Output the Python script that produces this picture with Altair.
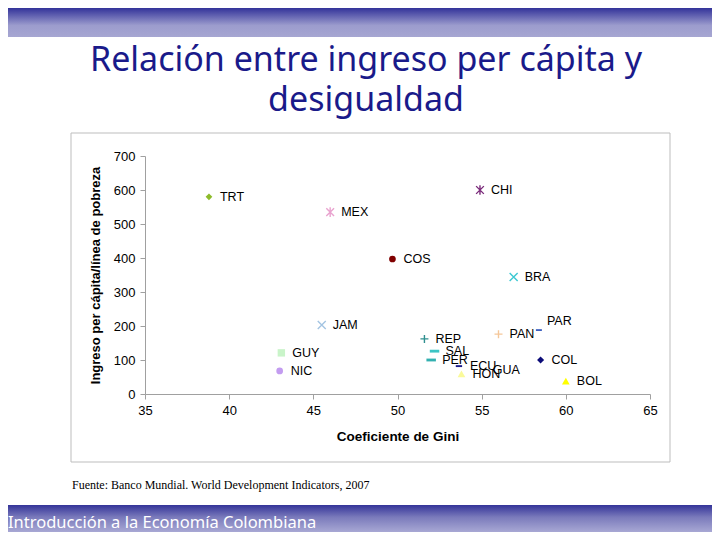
import altair as alt
import pandas as pd

# ---------------- data ----------------
countries = ["TRT", "MEX", "CHI", "COS", "BRA", "JAM", "GUY", "NIC", "REP",
             "SAL", "PER", "ECU", "HON", "GUA", "PAN", "PAR", "COL", "BOL"]
gini = [38.8, 46.0, 54.9, 49.7, 56.9, 45.5, 43.1, 43.0, 51.6,
        52.2, 52.0, 53.65, 53.8, 55.0, 56.0, 58.4, 58.5, 60.0]
ingreso = [580, 535, 600, 397, 344, 203, 121, 68, 162,
           126, 100, 82, 59, 71, 176, 188, 100, 38]

x_ticks = [35, 40, 45, 50, 55, 60, 65]
y_ticks = [0, 100, 200, 300, 400, 500, 600, 700]

title_lines = ["Relación entre ingreso per cápita y", "desigualdad"]
x_title = "Coeficiente de Gini"
y_title = "Ingreso per cápita/línea de pobreza"
source_text = "Fuente: Banco Mundial. World Development Indicators, 2007"
footer_text = "Introducción a la Economía Colombiana"

# ---------------- marker styles ----------------
P_X = "M-1,-1L1,1M-1,1L1,-1"
P_STAR = "M-1,-1L1,1M-1,1L1,-1M0,-1.25L0,1.25"
P_PLUS = "M-1,0L1,0M0,-1L0,1"
P_DASH = "M-1,-0.3L1,-0.3L1,0.3L-1,0.3Z"

# country: (shape, colour, size, filled)
marker_style = {
    "TRT": ("diamond", "#8dbb2a", 45, True),
    "MEX": (P_STAR, "#e9a3cf", 60, False),
    "CHI": (P_STAR, "#7a2a7a", 60, False),
    "COS": ("circle", "#800000", 45, True),
    "BRA": (P_X, "#3cc8d2", 64, False),
    "JAM": (P_X, "#a3c4e2", 64, False),
    "GUY": ("square", "#c9f4c9", 55, True),
    "NIC": ("circle", "#c39cf0", 45, True),
    "REP": (P_PLUS, "#2f8f8f", 64, False),
    "SAL": (P_DASH, "#3cc4c4", 90, True),
    "PER": (P_DASH, "#33b0b0", 90, True),
    "ECU": (P_DASH, "#1a1a8c", 40, True),
    "HON": ("triangle-up", "#fafa9a", 60, True),
    "GUA": ("circle", "#ffffff", 20, True),
    "PAN": (P_PLUS, "#f5c79a", 64, False),
    "PAR": (P_DASH, "#3b5fc0", 36, True),
    "COL": ("diamond", "#0c0c78", 50, True),
    "BOL": ("triangle-up", "#ffff00", 60, True),
}

df = pd.DataFrame({"pais": countries, "gini": gini, "ingreso": ingreso})
df["shape"] = [marker_style[c][0] for c in countries]
df["color"] = [marker_style[c][1] for c in countries]
df["size"] = [marker_style[c][2] for c in countries]
df["filled"] = [marker_style[c][3] for c in countries]

# ---------------- layout ----------------
W, H = 505, 238                     # plot area
PAD_L, PAD_T = 137, 148
TOTAL_W, TOTAL_H = 704, 524
PAD_R, PAD_B = TOTAL_W - W - PAD_L, TOTAL_H - H - PAD_T

FONT = "Liberation Sans"
SLIDE_FONT = "Noto Sans"

xs = alt.Scale(domain=[35, 65], nice=False, zero=False)
ys = alt.Scale(domain=[0, 700], nice=False, zero=False)

x_enc = alt.X("gini:Q", scale=xs, axis=alt.Axis(
    values=x_ticks, title=x_title, grid=False, labelFlush=False,
    domainColor="#a0a0a0", tickColor="#a0a0a0", tickSize=5,
    labelFont=FONT, labelFontSize=13, labelColor="#000000", labelPadding=5,
    titleFont=FONT, titleFontSize=13.5, titleFontWeight="bold",
    titleColor="#000000", titlePadding=12, zindex=1))
y_enc = alt.Y("ingreso:Q", scale=ys, axis=alt.Axis(
    values=y_ticks, title=y_title, grid=False, labelFlush=False,
    domainColor="#a0a0a0", tickColor="#a0a0a0", tickSize=5,
    labelFont=FONT, labelFontSize=13, labelColor="#000000", labelPadding=5,
    titleFont=FONT, titleFontSize=13, titleFontWeight="bold",
    titleColor="#000000", titlePadding=11, zindex=1))

base = alt.Chart(df)

one = alt.Data(values=[{"k": 0}])

def grad(stops):
    return alt.Gradient(gradient="linear", x1=0, x2=0, y1=0, y2=1,
                        stops=[alt.GradientStop(color=c, offset=o) for o, c in stops])

top_band = alt.Chart(one).mark_rect(
    color=grad([(0, "#33339a"), (0.6, "#9c9ccd"), (1, "#a6a6d2")])
).encode(x=alt.value(-PAD_L), x2=alt.value(W + PAD_R),
         y=alt.value(-PAD_T), y2=alt.value(-PAD_T + 29))

bottom_band = alt.Chart(one).mark_rect(
    color=grad([(0, "#343499"), (0.45, "#7a7abb"), (1, "#a8a8d4")])
).encode(x=alt.value(-PAD_L), x2=alt.value(W + PAD_R),
         y=alt.value(H + PAD_B - 27), y2=alt.value(H + PAD_B))

footer = alt.Chart(one).mark_text(
    text=footer_text, font=SLIDE_FONT, fontSize=16.5, color="#ffffff",
    align="left", baseline="alphabetic"
).encode(x=alt.value(-PAD_L + 0), y=alt.value(H + PAD_B - 4))

title = alt.Chart(one).mark_text(
    text=title_lines, font=SLIDE_FONT, fontSize=34, color="#1a1a8a",
    align="center", baseline="alphabetic", lineHeight=40
).encode(x=alt.value(221), y=alt.value(-85))

frame = alt.Chart(one).mark_rect(
    filled=False, stroke="#bdbdbd", strokeWidth=1
).encode(x=alt.value(-74), x2=alt.value(525), y=alt.value(-23), y2=alt.value(306))

source = alt.Chart(one).mark_text(
    text=source_text, font="Liberation Serif", fontSize=12, color="#000000",
    align="left", baseline="alphabetic"
).encode(x=alt.value(-73), y=alt.value(333))

filled_pts = base.transform_filter("datum.filled").mark_point(
    filled=True, opacity=1, strokeWidth=0
).encode(x=x_enc, y=y_enc,
         shape=alt.Shape("shape:N", scale=None),
         color=alt.Color("color:N", scale=None),
         size=alt.Size("size:Q", scale=None))

stroked_pts = base.transform_filter("!datum.filled").mark_point(
    filled=False, opacity=1, strokeWidth=1.4
).encode(x=x_enc, y=y_enc,
         shape=alt.Shape("shape:N", scale=None),
         color=alt.Color("color:N", scale=None),
         size=alt.Size("size:Q", scale=None))

labels = base.transform_filter("datum.pais != 'PAR'").mark_text(
    align="left", baseline="middle", dx=11, font=FONT, fontSize=12.5, color="#000000"
).encode(x=x_enc, y=y_enc, text="pais:N")

labels_par = base.transform_filter("datum.pais == 'PAR'").mark_text(
    align="left", baseline="middle", dx=8, dy=-9, font=FONT, fontSize=12.5, color="#000000"
).encode(x=x_enc, y=y_enc, text="pais:N")

chart = alt.layer(
    top_band, bottom_band, footer, title, frame, source,
    filled_pts, stroked_pts, labels, labels_par
).properties(
    width=W, height=H,
    autosize=alt.AutoSizeParams(type="none"),
    padding={"left": PAD_L, "top": PAD_T, "right": PAD_R, "bottom": PAD_B},
    background="#ffffff"
).configure_view(stroke=None)

chart.save("out.html", embed_options={"renderer": "svg", "actions": False})
